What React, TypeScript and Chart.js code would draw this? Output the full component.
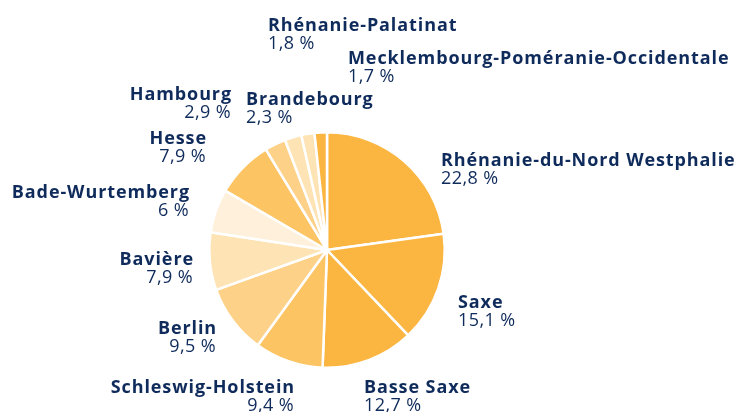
import React, { useEffect, useRef } from "react";
import { Chart, registerables } from "chart.js";

Chart.register(...registerables);

const categories = [
  "Rhénanie-du-Nord Westphalie",
  "Saxe",
  "Basse Saxe",
  "Schleswig-Holstein",
  "Berlin",
  "Bavière",
  "Bade-Wurtemberg",
  "Hesse",
  "Hambourg",
  "Brandebourg",
  "Rhénanie-Palatinat",
  "Mecklembourg-Poméranie-Occidentale",
];

const values = [22.8, 15.1, 12.7, 9.4, 9.5, 7.9, 6, 7.9, 2.9, 2.3, 1.8, 1.7];

const valueLabels = [
  "22,8 %",
  "15,1 %",
  "12,7 %",
  "9,4 %",
  "9,5 %",
  "7,9 %",
  "6 %",
  "7,9 %",
  "2,9 %",
  "2,3 %",
  "1,8 %",
  "1,7 %",
];

const colors = [
  "#FBB642",
  "#FBB642",
  "#FBB642",
  "#FCC463",
  "#FDD188",
  "#FEE3B4",
  "#FEF0DA",
  "#FCC463",
  "#FDD188",
  "#FEE3B4",
  "#FEE3B4",
  "#FBB642",
];

// label placement relative to the pie centre (dx, dy of name baseline) and alignment
const labelLayout: { dx: number; dy: number; align: CanvasTextAlign }[] = [
  { dx: 114, dy: -84, align: "left" },
  { dx: 131, dy: 58, align: "left" },
  { dx: 37, dy: 143, align: "left" },
  { dx: -33, dy: 143, align: "right" },
  { dx: -111, dy: 84, align: "right" },
  { dx: -134, dy: 15, align: "right" },
  { dx: -138, dy: -52, align: "right" },
  { dx: -121, dy: -106, align: "right" },
  { dx: -96, dy: -150, align: "right" },
  { dx: -81, dy: -145, align: "left" },
  { dx: -59, dy: -219, align: "left" },
  { dx: 21, dy: -186, align: "left" },
];

const TEXT_COLOR = "#0f2b5b";
const FONT_FAMILY = "'Open Sans', sans-serif";

const labelPlugin = {
  id: "sliceLabels",
  afterDraw(chart: any) {
    const meta = chart.getDatasetMeta(0);
    const arc = meta.data[0];
    if (!arc) return;
    const cx = arc.x;
    const cy = arc.y;
    const ctx = chart.ctx as any;
    ctx.save();
    ctx.fillStyle = TEXT_COLOR;
    ctx.textBaseline = "alphabetic";
    categories.forEach((name, i) => {
      const l = labelLayout[i];
      const x = cx + l.dx;
      const y = cy + l.dy;
      ctx.textAlign = l.align;
      ctx.font = `bold 18px ${FONT_FAMILY}`;
      ctx.letterSpacing = "0.9px";
      ctx.fillText(name, x + (l.align === "right" ? 1 : 0), y);
      ctx.font = `normal 18px ${FONT_FAMILY}`;
      ctx.letterSpacing = "0.4px";
      ctx.fillText(valueLabels[i], x, y + 18);
    });
    ctx.restore();
  },
};

export default function App() {
  const ref = useRef<HTMLCanvasElement | null>(null);
  useEffect(() => {
    if (!ref.current) return;
    const chart = new Chart(ref.current, {
      type: "pie",
      data: {
        labels: categories,
        datasets: [
          {
            data: values,
            backgroundColor: colors,
            borderColor: "#ffffff",
            borderWidth: 2.5,
          },
        ],
      },
      options: {
        responsive: false,
        animation: false,
        layout: { padding: { left: 0, right: 83, top: 131, bottom: 43 } },
        plugins: {
          legend: { display: false },
          tooltip: { enabled: false },
        },
      },
      plugins: [labelPlugin],
    });
    return () => chart.destroy();
  }, []);
  return (
    <div style={{ position: "fixed", left: 0, top: 0, width: 737, height: 412, background: "#fff" }}>
      <canvas ref={ref} width={737} height={412} style={{ width: 737, height: 412 }} />
    </div>
  );
}
